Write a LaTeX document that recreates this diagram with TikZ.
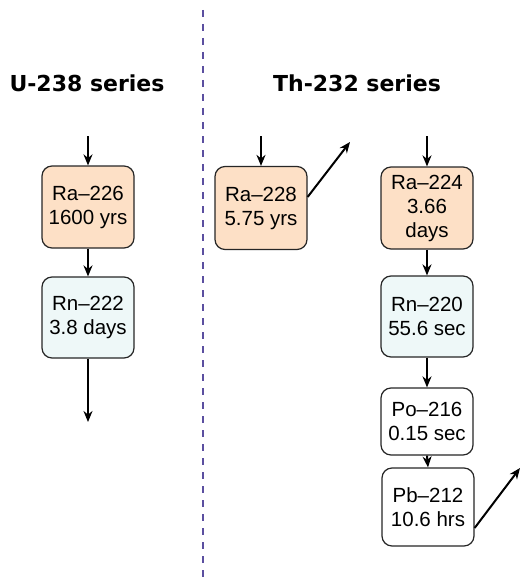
\documentclass[tikz,border=0pt]{standalone}
\usepackage{fontspec}
\setmainfont{Liberation Sans}
\newfontfamily\titlefont{DejaVu Sans}
\usetikzlibrary{arrows.meta}
\definecolor{raorange}{HTML}{FDE0C6}
\definecolor{rncyan}{HTML}{EEF8F8}
\definecolor{divpurple}{HTML}{5B4FA0}
\tikzset{
  nuc/.style={draw=black!85, line width=1.2pt, rounded corners=10pt, align=center,
    font=\fontsize{20.5}{24}\selectfont, inner sep=0pt, minimum width=92pt},
  flow/.style={line width=2pt, -{Stealth[length=11pt,width=9pt]}},
  ttl/.style={font=\titlefont\bfseries\fontsize{22}{24}\selectfont, inner sep=0pt}
}
\begin{document}
\begin{tikzpicture}[x=1pt,y=-1pt]
\useasboundingbox (0,0) rectangle (521,583);
% divider
\draw[divpurple, line width=1.8pt, dash pattern=on 7pt off 7pt] (203,10) -- (203,577);
% titles
\node[ttl] (t1) at (87,83) {U-238 series};
\node[ttl] (t2) at (357,83) {Th-232 series};
% U-238
\node[nuc, fill=raorange, minimum height=82pt] (ra226) at (88,207) {Ra–226\\1600 yrs};
\node[nuc, fill=rncyan, minimum height=81pt] (rn222) at (88,317.5) {Rn–222\\3.8 days};
\coordinate (u0) at (88,136);
\coordinate (u3) at (88,422);
\draw[flow] (u0) -- (ra226.north);
\draw[flow] (ra226.south) -- (rn222.north);
\draw[flow] (rn222.south) -- (u3);
% Th-232
\node[nuc, fill=raorange, minimum height=83pt] (ra228) at (261,208) {Ra–228\\5.75 yrs};
\coordinate (t0) at (261,136);
\coordinate (tx) at (350,142);
\draw[flow] (t0) -- (ra228.north);
\draw[flow] ([yshift=11pt]ra228.east) -- (tx);
\node[nuc, fill=raorange, minimum height=82pt] (ra224) at (427,208) {Ra–224\\3.66\\days};
\node[nuc, fill=rncyan, minimum height=81pt] (rn220) at (427,316.5) {Rn–220\\55.6 sec};
\node[nuc, fill=white, minimum height=67pt] (po216) at (427,421.5) {Po–216\\0.15 sec};
\node[nuc, fill=white, minimum height=78pt] (pb212) at (428,507) {Pb–212\\10.6 hrs};
\coordinate (r0) at (427,136);
\coordinate (ry) at (520,468);
\draw[flow] (r0) -- (ra224.north);
\draw[flow] (ra224.south) -- (rn220.north);
\draw[flow] (rn220.south) -- (po216.north);
\draw[flow] (po216.south) -- (pb212.north);
\draw[flow] ([yshift=-21pt]pb212.east) -- (ry);
\end{tikzpicture}
\end{document}
